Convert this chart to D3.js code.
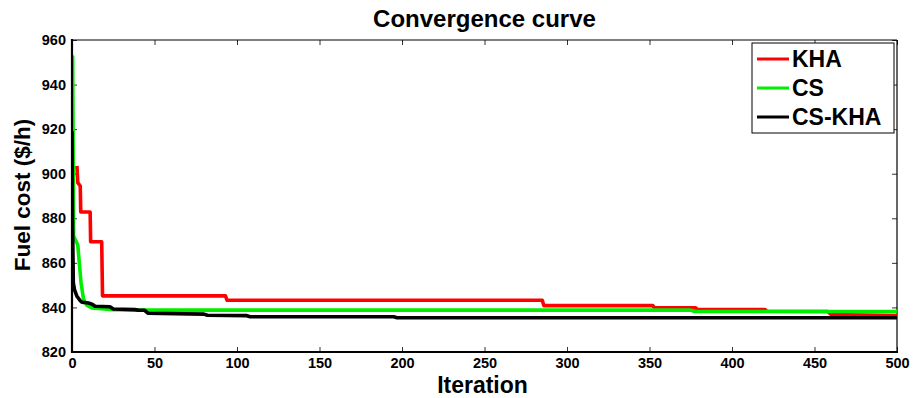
<!DOCTYPE html>
<html><head><meta charset="utf-8">
<script src="https://cdn.jsdelivr.net/npm/d3@7"></script>
<style>body{margin:0;background:#fff}svg{display:block;font-family:"Liberation Sans",Arial,sans-serif}</style>
</head><body><svg id="c" width="915" height="398"></svg>
<script>
const seriesNames = ["KHA", "CS", "CS-KHA"];
const seriesColors = ["#ff0000", "#00ee00", "#000000"];
const khaIter = [3, 3.5, 5, 5.3, 11, 11.3, 18, 18.5, 93, 94, 285, 286, 352, 353, 378, 379, 420, 421, 458, 460, 500];
const khaCost = [903.5, 896, 894.5, 882.8, 882.8, 869.5, 869.5, 845.2, 845.2, 843.2, 843.2, 840.8, 840.8, 839.8, 839.8, 839.1, 839.1, 838.3, 838.2, 836.8, 836.4];
const csIter = [0, 0.4, 1, 3.5, 5.5, 7, 9, 12, 25, 45, 375, 377, 500];
const csCost = [952.5, 952.5, 872, 868, 851, 843.7, 841, 839.8, 839, 838.8, 838.8, 838.2, 838.2];
const hybIter = [0, 0.3, 0.8, 1.5, 3, 5, 6, 10, 12, 14, 23, 25, 38, 40, 44, 46, 80, 82, 106, 108, 195, 197, 500];
const hybCost = [919, 880, 851, 848, 845, 843, 842.3, 842, 841.5, 840.5, 840.3, 839.3, 839, 838.8, 838.7, 837.4, 837, 836.5, 836.3, 835.8, 835.8, 835.4, 835.4];
const xTicks = [0, 50, 100, 150, 200, 250, 300, 350, 400, 450, 500];
const yTicks = [820, 840, 860, 880, 900, 920, 940, 960];

const svg = d3.select("#c");
const L = 72, R = 897, T = 40, B = 352;
const x = d3.scaleLinear().domain([0, 500]).range([L, R]);
const y = d3.scaleLinear().domain([820, 960]).range([B, T]);

svg.append("defs").append("clipPath").attr("id", "clip")
  .append("rect").attr("x", L).attr("y", T).attr("width", R - L).attr("height", B - T);

// inward ticks on all four sides
const tl = 5;
const gx = svg.append("g").attr("transform", `translate(0,${B})`)
  .call(d3.axisBottom(x).tickValues(xTicks).tickSizeInner(-tl).tickSizeOuter(0).tickPadding(6));
const gy = svg.append("g").attr("transform", `translate(${L},0)`)
  .call(d3.axisLeft(y).tickValues(yTicks).tickSizeInner(-tl).tickSizeOuter(0).tickPadding(6));
const gxt = svg.append("g").attr("transform", `translate(0,${T})`)
  .call(d3.axisTop(x).tickValues(xTicks).tickSizeInner(-tl).tickSizeOuter(0).tickFormat(""));
const gyr = svg.append("g").attr("transform", `translate(${R},0)`)
  .call(d3.axisRight(y).tickValues(yTicks).tickSizeInner(-tl).tickSizeOuter(0).tickFormat(""));
[gx, gy, gxt, gyr].forEach(g => { g.select(".domain").remove(); g.selectAll(".tick line").attr("stroke", "#333").attr("stroke-width", 1); });
[gx, gy].forEach(g => g.selectAll(".tick text").attr("font-size", 14.5).attr("font-weight", "bold").attr("fill", "#000")
  .attr("font-family", "'Liberation Sans', Arial, sans-serif"));

// box
svg.append("line").attr("x1", L).attr("x2", R).attr("y1", T).attr("y2", T).attr("stroke", "#000").attr("stroke-width", 1.2);
svg.append("line").attr("x1", R).attr("x2", R).attr("y1", T).attr("y2", B).attr("stroke", "#000").attr("stroke-width", 1.2);

const series = [
  { iter: khaIter, cost: khaCost },
  { iter: csIter, cost: csCost },
  { iter: hybIter, cost: hybCost }
];
const line = d3.line().x(d => x(d[0])).y(d => y(d[1]));
const pg = svg.append("g").attr("clip-path", "url(#clip)");
series.forEach((s, i) => {
  const pts = s.iter.map((v, k) => [v, s.cost[k]]);
  pg.append("path").datum(pts).attr("d", line).attr("fill", "none")
    .attr("stroke", seriesColors[i]).attr("stroke-width", 3.6).attr("stroke-linejoin", "round");
});

svg.append("line").attr("x1", L).attr("x2", L).attr("y1", T - 1).attr("y2", B + 1).attr("stroke", "#000").attr("stroke-width", 2.2);
svg.append("line").attr("x1", L - 1).attr("x2", R + 1).attr("y1", B).attr("y2", B).attr("stroke", "#000").attr("stroke-width", 2.2);

// legend
const lg = svg.append("g");
lg.append("rect").attr("x", 752).attr("y", 43).attr("width", 142).attr("height", 90)
  .attr("fill", "#fff").attr("stroke", "#000").attr("stroke-width", 1);
seriesNames.forEach((n, i) => {
  const yy = 59 + i * 29;
  lg.append("line").attr("x1", 757).attr("x2", 789).attr("y1", yy).attr("y2", yy)
    .attr("stroke", seriesColors[i]).attr("stroke-width", 3);
  lg.append("text").attr("x", 792).attr("y", yy).attr("dy", "0.36em").attr("font-size", 23)
    .attr("font-weight", "bold").text(n);
});

// titles
svg.append("text").attr("x", (L + R) / 2).attr("y", 27).attr("text-anchor", "middle")
  .attr("font-size", 24).attr("font-weight", "bold").text("Convergence curve");
svg.append("text").attr("x", (L + R) / 2 - 2).attr("y", 393).attr("text-anchor", "middle")
  .attr("font-size", 23).attr("font-weight", "bold").text("Iteration");
svg.append("text").attr("transform", `translate(30,${(T + B) / 2 - 1}) rotate(-90)`).attr("text-anchor", "middle")
  .attr("font-size", 22.5).attr("font-weight", "bold").text("Fuel cost ($/h)");
</script></body></html>
